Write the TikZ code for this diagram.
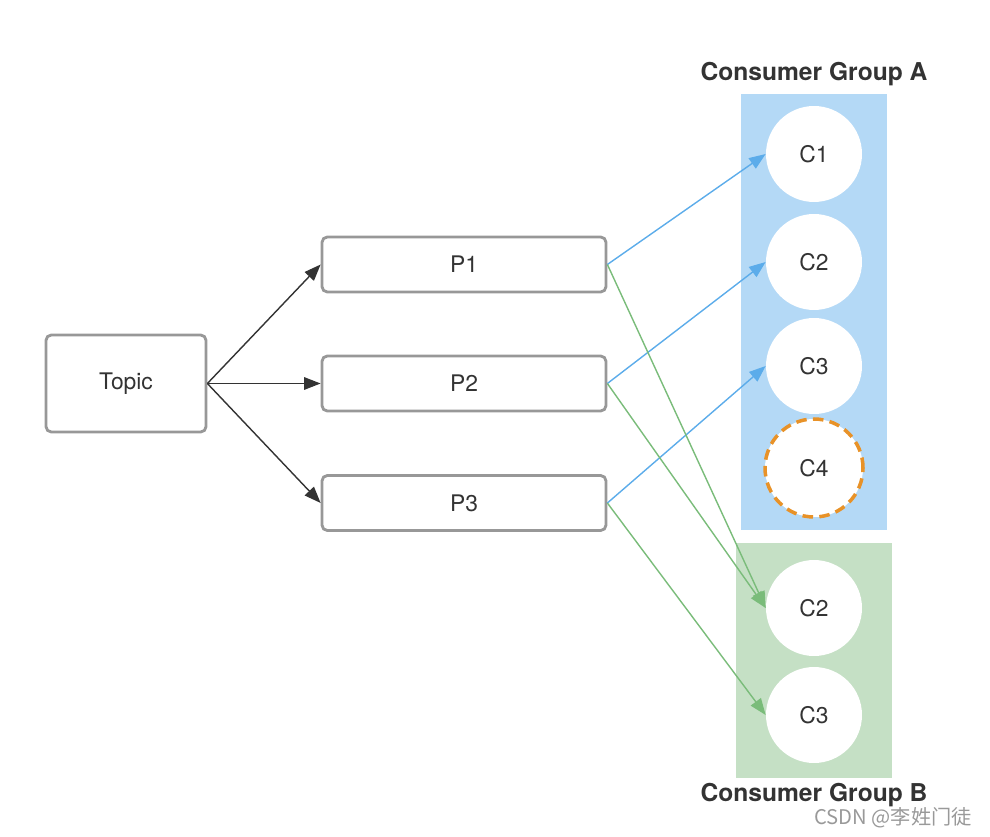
\documentclass[tikz,border=0pt]{standalone}
\usepackage{fontspec}
\setmainfont{TeX Gyre Heros}
\newfontfamily\cjk{Noto Sans CJK SC}
\usetikzlibrary{arrows.meta}

\definecolor{boxgray}{RGB}{152,152,152}
\definecolor{textgray}{RGB}{51,51,51}
\definecolor{groupablue}{RGB}{180,217,246}
\definecolor{groupbgreen}{RGB}{197,224,197}
\definecolor{lineblue}{RGB}{92,172,234}
\definecolor{linegreen}{RGB}{122,188,122}
\definecolor{dashorange}{RGB}{232,146,40}

\begin{document}
\begin{tikzpicture}[x=0.02cm, y=-0.02cm,
    box/.style={draw=boxgray, line width=1.6pt, rounded corners=3pt, fill=white,
        text=textgray, font=\fontsize{13}{15}\selectfont},
    consumer/.style={circle, fill=white, minimum size=1.92cm, inner sep=0pt,
        text=textgray, font=\fontsize{13}{15}\selectfont},
    title/.style={text=textgray, font=\fontsize{14}{16}\selectfont\bfseries},
    arrow/.style={-{Triangle[length=3.3mm, width=2.5mm]}, line width=0.8pt}
]

    \useasboundingbox (0,0) rectangle (990,837);

    % Consumer groups
    \fill[groupablue] (741,94) rectangle (887,530);
    \fill[groupbgreen] (736,543) rectangle (892,778);
    \node[title] (titlea) at (814,74) {Consumer Group A};
    \node[title] (titleb) at (814,795) {Consumer Group B};

    % Topic and partitions
    \node[box, minimum width=3.2cm, minimum height=1.94cm] (topic) at (126,383.5) {Topic};
    \node[box, minimum width=5.68cm, minimum height=1.1cm] (p1) at (464,264.5) {P1};
    \node[box, minimum width=5.68cm, minimum height=1.1cm] (p2) at (464,383.5) {P2};
    \node[box, minimum width=5.68cm, minimum height=1.1cm] (p3) at (464,503) {P3};

    % Consumers
    \node[consumer] (a1) at (814,154) {C1};
    \node[consumer] (a2) at (814,262) {C2};
    \node[consumer] (a3) at (814,366) {C3};
    \node[consumer, draw=dashorange, line width=2pt, dash pattern=on 6pt off 3.6pt,
        minimum size=1.96cm] (a4) at (814,468) {C4};
    \node[consumer] (b2) at (814,608) {C2};
    \node[consumer] (b3) at (814,715) {C3};

    % Topic to partitions
    \draw[arrow, textgray] (topic.east) -- (p1.west);
    \draw[arrow, textgray] (topic.east) -- (p2.west);
    \draw[arrow, textgray] (topic.east) -- (p3.west);

    % Group A
    \draw[arrow, lineblue] (p1.east) -- (a1.west);
    \draw[arrow, lineblue] (p2.east) -- (a2.west);
    \draw[arrow, lineblue] (p3.east) -- (a3.west);

    % Group B
    \draw[arrow, linegreen] (p1.east) -- (b2.west);
    \draw[arrow, linegreen] (p2.east) -- (b2.west);
    \draw[arrow, linegreen] (p3.east) -- (b3.west);

    % Watermark
    \node[text=gray!80, font=\cjk\fontsize{11.5}{13}\selectfont] (mark) at (893,818) {CSDN @李姓门徒};

\end{tikzpicture}
\end{document}
